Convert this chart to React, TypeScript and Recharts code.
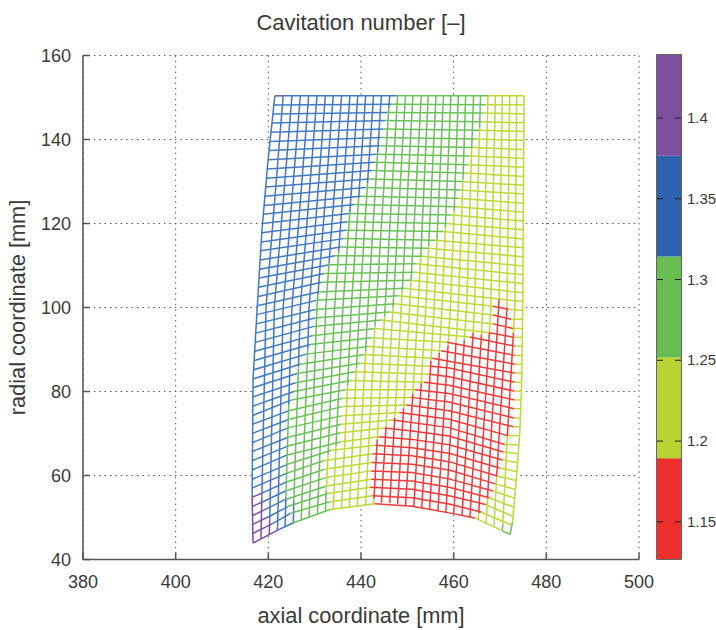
import React from "react";
import {
  ScatterChart,
  Scatter,
  XAxis,
  YAxis,
  CartesianGrid,
  BarChart,
  Bar,
  ReferenceArea,
} from "recharts";

const FONT = "'Liberation Sans', Arial, sans-serif";
const TEXT = "#3a3a3a";
const AXIS = "#555555";

const xTicks = [380, 400, 420, 440, 460, 480, 500];
const yTicks = [40, 60, 80, 100, 120, 140, 160];
const barTicks = [1.15, 1.2, 1.25, 1.3, 1.35, 1.4];

// colour bar bands, bottom to top
const bandColors = ["#ee2f2e", "#b9d432", "#68bd52", "#2f62ae", "#7b4f9d"];
const bandTops = [1.1894, 1.2518, 1.3142, 1.3766, 1.439];
const barMin = 1.127;

// outer edge of the mesh, the grid does not show through it
const meshOutline = [
  421.4, 150.4, 475.2, 150.4, 474.9, 100, 474.7, 83, 474.3, 70.6, 473.6, 60.4, 473, 52.5, 472.2, 46,
  464.6, 49.7, 458.6, 51.1, 451.2, 52.7, 445, 53.5, 439.8, 53, 433.3, 51.8, 427.3, 49.4, 422, 47,
  416.7, 43.9, 416.5, 55.4, 416.7, 83, 417.6, 100, 418.6, 118, 419.9, 134.6, 421.4, 150.4,
];

// mesh lines as flat x,y lists, radial stations first, then axial stations
const purpleLines = [
  [421.4, 150.4, 423.2, 150.4],
  [416.5, 54.8, 418.6, 55.8],
  [416.5, 52.6, 418.7, 53.7],
  [416.5, 50.4, 419.5, 52],
  [416.5, 48.3, 420.3, 50.3],
  [416.5, 46.1, 421, 48.6],
  [416.7, 43.9, 422, 47],
  [416.5, 55.4, 416.7, 43.9],
  [418.6, 55, 418.4, 44.9],
  [420.3, 49.5, 420.2, 45.9],
  [422, 47.8, 421.9, 46.9],
];

const blueLines = [
  [423.2, 150.4, 447.8, 150.4],
  [421.2, 148.2, 446.6, 148.4],
  [421, 146.1, 445.7, 146.4],
  [420.8, 143.9, 445.3, 144.5],
  [420.6, 141.7, 444.8, 142.5],
  [420.4, 139.5, 444.4, 140.5],
  [420.2, 137.4, 444, 138.5],
  [420, 135.2, 443.5, 136.5],
  [419.8, 133, 443, 134.6],
  [419.6, 130.8, 442.4, 132.6],
  [419.4, 128.7, 441.7, 130.6],
  [419.2, 126.5, 441, 128.6],
  [419.1, 124.3, 439.8, 126.5],
  [418.9, 122.2, 438.6, 124.5],
  [418.7, 120, 437.5, 122.4],
  [418.6, 117.8, 437.1, 120.4],
  [418.5, 115.6, 436.7, 118.4],
  [418.3, 113.5, 436.2, 116.4],
  [418.2, 111.3, 435.6, 114.4],
  [418.1, 109.1, 434.4, 112.3],
  [418, 107, 433.2, 110.2],
  [417.9, 104.8, 432.1, 108.1],
  [417.8, 102.6, 431.5, 106],
  [417.6, 100.4, 430.8, 103.7],
  [417.5, 98.3, 430.4, 101.7],
  [417.4, 96.1, 430.2, 99.5],
  [417.3, 93.9, 430, 97.5],
  [417.2, 91.7, 429.8, 95.5],
  [417.1, 89.6, 429.5, 93.3],
  [417, 87.4, 429, 91.2],
  [416.9, 85.2, 428.2, 88.9],
  [416.7, 83, 426.8, 86.5],
  [416.7, 80.9, 426.2, 84.3],
  [416.6, 78.7, 425.9, 82.1],
  [416.6, 76.5, 425.5, 80],
  [416.6, 74.3, 425, 78],
  [416.6, 72.2, 424.6, 75.5],
  [416.5, 70, 424.5, 73.4],
  [416.5, 67.8, 424.4, 71.4],
  [416.5, 65.7, 424.3, 69.1],
  [416.5, 63.5, 424.2, 67],
  [416.5, 61.3, 424.1, 64.9],
  [416.5, 59.1, 424, 62.6],
  [416.5, 57, 423.9, 60.5],
  [418.6, 55.8, 423.8, 58.4],
  [418.7, 53.7, 423.7, 56.3],
  [419.5, 52, 423.7, 54.3],
  [420.3, 50.3, 424.2, 52.6],
  [421, 48.6, 424.8, 51],
  [422, 47, 425.3, 48.7],
  [421.4, 150.4, 419.9, 134.6, 418.6, 118, 417.6, 100, 416.7, 83, 416.5, 55.4],
  [423.2, 150.4, 419.5, 100, 418.6, 55],
  [425.1, 150.4, 421.3, 100, 420.3, 49.5],
  [426.9, 150.4, 423.2, 100, 422, 47.8],
  [428.7, 150.4, 425.1, 100, 424.4, 77],
  [423.8, 55, 423.6, 47.7],
  [430.5, 150.4, 426.9, 100, 426.5, 85.8],
  [425.5, 54, 425.4, 48.5],
  [432.3, 150.4, 428.8, 100, 428.5, 90],
  [434, 150.4, 430.7, 103],
  [435.8, 150.4, 433.1, 110.5],
  [437.6, 150.4, 435.2, 113.5],
  [439.3, 150.4, 437.6, 122.7],
  [441, 150.4, 439.5, 126],
  [442.7, 150.4, 441.4, 129.5],
  [444.4, 150.4, 443.6, 137],
  [446.2, 150.4, 446, 147.5],
];

const greenLines = [
  [447.8, 150.4, 467.4, 150.4],
  [446.6, 148.4, 466.8, 148.3],
  [445.7, 146.4, 466.4, 146.3],
  [445.3, 144.5, 466, 144.2],
  [444.8, 142.5, 465.5, 142.2],
  [444.4, 140.5, 464.8, 140.1],
  [444, 138.5, 464.1, 138.1],
  [443.5, 136.5, 463.4, 136.05],
  [443, 134.6, 462.9, 134],
  [442.4, 132.6, 462.4, 132],
  [441.7, 130.6, 461.9, 130],
  [441, 128.6, 461.5, 128],
  [439.8, 126.5, 461, 126],
  [438.6, 124.5, 460.5, 124],
  [437.5, 122.4, 459.6, 122],
  [437.1, 120.4, 458.6, 120],
  [436.7, 118.4, 457.8, 118.1],
  [436.2, 116.4, 456.1, 116],
  [435.6, 114.4, 454.5, 114.1],
  [434.4, 112.3, 453.1, 112.2],
  [433.2, 110.2, 452, 110.4],
  [432.1, 108.1, 451.4, 108.4],
  [431.5, 106, 450.8, 106.5],
  [430.8, 103.7, 449.4, 104.6],
  [430.4, 101.7, 448.1, 102.8],
  [430.2, 99.5, 447.3, 100.9],
  [430, 97.5, 446.1, 98.9],
  [429.8, 95.5, 444.4, 97],
  [429.5, 93.3, 443, 95],
  [429, 91.2, 442.3, 92.8],
  [428.2, 88.9, 441.5, 90.7],
  [426.8, 86.5, 440.7, 88.8],
  [426.2, 84.3, 439.8, 86.7],
  [425.9, 82.1, 438.7, 84.7],
  [425.5, 80, 437.7, 82.6],
  [425, 78, 436.7, 80.4],
  [424.6, 75.5, 436.05, 78.4],
  [424.5, 73.4, 436, 76.4],
  [424.4, 71.4, 435.8, 74.2],
  [424.3, 69.1, 435.7, 72.2],
  [424.2, 67, 435.6, 70.2],
  [424.1, 64.9, 435.5, 68],
  [424, 62.6, 433.6, 66],
  [423.9, 60.5, 431.9, 63.5],
  [423.8, 58.4, 432.1, 61.5],
  [423.7, 56.3, 432.4, 59.5],
  [423.7, 54.3, 432.6, 57.5],
  [424.2, 52.6, 432.8, 55.7],
  [424.8, 51, 433.1, 53.7],
  [425.3, 48.7, 433.3, 51.9],
  [470.5, 46.8, 472.2, 46],
  [424.4, 77, 423.8, 55],
  [426.5, 85.8, 425.5, 54],
  [428.5, 90, 427.1, 49.3],
  [430.7, 103, 430.5, 100, 428.8, 50],
  [433.1, 110.5, 432.4, 100, 430.6, 50.7],
  [435.2, 113.5, 434.3, 100, 432.9, 65],
  [432.5, 56.5, 432.3, 51.4],
  [437.6, 122.7, 436.1, 100, 434.6, 67],
  [439.5, 126, 437.9, 100, 437.1, 81.3],
  [441.4, 129.5, 439.7, 100, 439, 85.5],
  [443.6, 137, 441.5, 100, 441, 89.5],
  [446, 147.5, 443.3, 100, 443, 95.5],
  [447.9, 150.4, 445.2, 100, 445.1, 97.8],
  [449.6, 150.4, 446.9, 100],
  [451.2, 150.4, 448.9, 104],
  [453, 150.4, 450.8, 106.5],
  [454.5, 150.4, 452.9, 112],
  [456.2, 150.4, 454.6, 114.5],
  [457.8, 150.4, 456.4, 116],
  [459.4, 150.4, 458.2, 119],
  [461, 150.4, 460.1, 122.8],
  [462.6, 150.4, 462, 130.4],
  [464.3, 150.4, 463.9, 138],
  [465.8, 150.4, 465.6, 142.7],
  [470.6, 48.5, 470.5, 46.8],
  [472.7, 49, 472.2, 46],
];

const yellowLines = [
  [467.4, 150.4, 475.2, 150.4],
  [466.8, 148.3, 475.2, 148.3],
  [466.4, 146.3, 475.2, 146.1],
  [466, 144.2, 475.2, 144],
  [465.5, 142.2, 475.2, 141.9],
  [464.8, 140.1, 475.1, 139.8],
  [464.1, 138.1, 475.1, 137.6],
  [463.4, 136.05, 475.1, 135.5],
  [462.9, 134, 475.1, 133.4],
  [462.4, 132, 475.1, 131.2],
  [461.9, 130, 475.1, 129.1],
  [461.5, 128, 475.1, 127],
  [461, 126, 475, 124.8],
  [460.5, 124, 475, 122.7],
  [459.6, 122, 475, 120.6],
  [458.6, 120, 475, 118.5],
  [457.8, 118.1, 475, 116.3],
  [456.1, 116, 475, 114.2],
  [454.5, 114.1, 474.9, 112.1],
  [453.1, 112.2, 474.9, 109.9],
  [452, 110.4, 474.9, 107.8],
  [451.4, 108.4, 474.9, 105.7],
  [450.8, 106.5, 474.9, 103.5],
  [449.4, 104.6, 474.9, 101.4],
  [448.1, 102.8, 468.5, 100.3],
  [447.3, 100.9, 468.5, 98.2],
  [446.1, 98.9, 468.5, 96.1],
  [444.4, 97, 467.7, 94],
  [443, 95, 463.5, 93],
  [442.3, 92.8, 458.6, 91.7],
  [441.5, 90.7, 457.3, 89.7],
  [440.7, 88.8, 455.4, 87.9],
  [439.8, 86.7, 455.1, 86],
  [438.7, 84.7, 455, 84.1],
  [437.7, 82.6, 453.6, 82.2],
  [436.7, 80.4, 451.7, 80.4],
  [436.05, 78.4, 450.8, 78.6],
  [436, 76.4, 449.9, 76.8],
  [435.8, 74.2, 448.3, 75],
  [435.7, 72.2, 446.9, 73.2],
  [435.6, 70.2, 445.1, 71.3],
  [435.5, 68, 443.8, 69.2],
  [433.6, 66, 443.1, 67.2],
  [431.9, 63.5, 442.5, 65.2],
  [432.1, 61.5, 442.3, 63.1],
  [432.4, 59.5, 442.2, 61.1],
  [432.6, 57.5, 442.2, 59.1],
  [432.8, 55.7, 442, 57.2],
  [433.1, 53.7, 442.5, 55.2],
  [433.3, 51.9, 443, 53.3],
  [471.8, 99.6, 474.9, 99.3],
  [472.4, 97.2, 474.8, 97.2],
  [472.8, 95, 474.8, 95],
  [473, 92.9, 474.8, 92.9],
  [473.2, 90.8, 474.8, 90.8],
  [473.2, 88.6, 474.8, 88.6],
  [473.2, 86.5, 474.7, 86.5],
  [473.2, 84.4, 474.7, 84.4],
  [473.2, 82.2, 474.7, 82.2],
  [473.1, 80.1, 474.7, 80.1],
  [473.1, 78, 474.6, 78],
  [473.1, 75.9, 474.6, 75.9],
  [473, 73.7, 474.5, 73.7],
  [472.9, 71.6, 474.4, 71.6],
  [471.7, 69.5, 474.3, 69.5],
  [471, 67.4, 474.1, 67.3],
  [470.7, 65.6, 474, 65.2],
  [470.5, 63.7, 473.8, 63.1],
  [469.9, 61.8, 473.6, 60.9],
  [469.4, 59.9, 473.5, 58.8],
  [469, 58, 473.3, 56.7],
  [468.5, 56.3, 473.2, 54.6],
  [467.7, 54.7, 473, 52.4],
  [466.9, 53.1, 472.7, 50.3],
  [465.9, 51.3, 472.5, 48.2],
  [464.6, 49.9, 470.5, 46.8],
  [432.9, 65, 432.5, 56.5],
  [434.6, 67, 434, 51.9],
  [437.1, 81.3, 435.8, 52.3],
  [439, 85.5, 437.5, 52.6],
  [441, 89.5, 439.2, 52.9],
  [443, 95.5, 441, 53.1],
  [445.1, 97.8, 443.5, 68.5],
  [442.8, 54.5, 442.7, 53.3],
  [446.9, 100, 445.4, 71.5],
  [448.9, 104, 448.7, 100, 447.3, 73.8],
  [450.8, 106.5, 450.5, 100, 449.2, 76],
  [452.9, 112, 452.3, 100, 451.2, 79.5],
  [454.6, 114.5, 454, 100, 453, 82],
  [456.4, 116, 455.8, 100, 455.1, 87.3],
  [458.2, 119, 457.5, 100, 456.9, 89.2],
  [460.1, 122.8, 459.3, 100, 458.8, 91],
  [462, 130.4, 461, 100, 460.5, 91.5],
  [463.9, 138, 462.8, 100, 462.3, 92.2],
  [465.6, 142.7, 464.5, 100, 464.2, 94],
  [467.4, 150.4, 466.3, 100, 466, 93.5],
  [469, 150.4, 468, 100, 467.7, 94],
  [465.4, 51, 465.3, 49.4],
  [470.5, 150.4, 469.8, 102],
  [467.3, 54.5, 467, 48.6],
  [472.1, 150.4, 471.5, 100],
  [469.3, 60, 468.7, 47.8],
  [473.6, 150.4, 473.2, 100, 472.9, 94],
  [471.6, 69.5, 470.6, 48.5],
  [475.2, 150.4, 474.9, 100, 474.7, 83, 474.3, 70.6, 473.6, 60.4, 473, 52.5, 472.7, 49],
];

const redLines = [
  [468.5, 100.3, 471.8, 99.6],
  [468.5, 98.2, 472.4, 97.2],
  [468.5, 96.1, 472.8, 95],
  [467.7, 94, 473, 92.9],
  [463.5, 93, 473.2, 90.8],
  [458.6, 91.7, 473.2, 88.6],
  [457.3, 89.7, 473.2, 86.5],
  [455.4, 87.9, 473.2, 84.4],
  [455.1, 86, 459, 85.6, 473.2, 82.2],
  [455, 84.1, 459, 83.5, 473.1, 80.1],
  [453.6, 82.2, 459, 81.5, 473.1, 78],
  [451.7, 80.4, 459, 79.5, 473.1, 75.9],
  [450.8, 78.6, 459, 77.5, 473, 73.7],
  [449.9, 76.8, 459, 75.4, 472.9, 71.6],
  [448.3, 75, 459, 73.4, 471.7, 69.5],
  [446.9, 73.2, 459, 71.4, 471, 67.4],
  [445.1, 71.3, 451, 70.6, 459, 69.4, 470.7, 65.6],
  [443.8, 69.2, 451, 68.6, 459, 67.3, 470.5, 63.7],
  [443.1, 67.2, 451, 66.6, 459, 65.3, 469.9, 61.8],
  [442.5, 65.2, 451, 64.7, 459, 63.3, 469.4, 59.9],
  [442.3, 63.1, 451, 62.7, 459, 61.3, 469, 58],
  [442.2, 61.1, 451, 60.7, 459, 59.2, 468.5, 56.3],
  [442.2, 59.1, 451, 58.7, 459, 57.2, 467.7, 54.7],
  [442, 57.2, 451, 56.7, 459, 55.2, 466.9, 53.1],
  [442.5, 55.2, 451, 54.7, 459, 53.2, 465.9, 51.3],
  [443, 53.3, 451, 52.7, 459, 51.1, 464.6, 49.9],
  [443.5, 68.5, 442.8, 54.5],
  [445.4, 71.5, 444.4, 53.5],
  [447.3, 73.8, 446.2, 53.4],
  [449.2, 76, 447.9, 53.2],
  [451.2, 79.5, 449.6, 52.9],
  [453, 82, 451.4, 52.7],
  [455.1, 87.3, 453.1, 52.3],
  [456.9, 89.2, 454.8, 51.9],
  [458.8, 91, 456.6, 51.5],
  [460.5, 91.5, 458.3, 51.2],
  [462.3, 92.2, 460, 50.8],
  [464.2, 94, 461.8, 50.4],
  [466, 93.5, 463.5, 50],
  [467.7, 94, 465.4, 51],
  [469.8, 102, 469.7, 100, 467.3, 54.5],
  [471.5, 100, 469.3, 60],
  [472.9, 94, 471.6, 69.5],
];

const meshGroups = [
  { color: "#7b4f9d", lines: purpleLines },
  { color: "#4279c2", lines: blueLines },
  { color: "#6cc05a", lines: greenLines },
  { color: "#bfd83a", lines: yellowLines },
  { color: "#f03a3a", lines: redLines },
];

const toPoints = (flat: number[]) => {
  const pts: { x: number; y: number }[] = [];
  for (let i = 0; i < flat.length; i += 2) pts.push({ x: flat[i], y: flat[i + 1] });
  return pts;
};

const barRow: Record<string, number | string> = { name: "bar" };
bandTops.forEach((top, i) => {
  barRow["b" + i] = i === 0 ? top : top - bandTops[i - 1];
});

const NoDot = () => <g />;

const BarTick = ({ x, y, payload }: any) => (
  <g>
    <line x1={x - 24} x2={x - 18} y1={y} y2={y} stroke="#222" />
    <line x1={x - 6} x2={x} y1={y} y2={y} stroke="#222" />
    <text x={x + 6} y={y + 5} fontSize={15} fontFamily={FONT} fill={TEXT}>
      {payload.value}
    </text>
  </g>
);

export default function App() {
  const tickStyle = { fontSize: 18, fontFamily: FONT, fill: TEXT };
  const labelStyle = { fontSize: 21.8, fontFamily: FONT, fill: TEXT };
  return (
    <div style={{ position: "absolute", left: 0, top: 0, width: 716, height: 630, background: "#fff" }}>
      <div
        style={{
          position: "absolute",
          left: 83,
          width: 556,
          top: 10,
          textAlign: "center",
          fontSize: 22,
          fontFamily: FONT,
          color: TEXT,
        }}
      >
        Cavitation number [–]
      </div>
      <div style={{ position: "absolute", left: 0, top: 0 }}>
        <ScatterChart
          width={716}
          height={630}
          margin={{ top: 55.5, right: 77, bottom: 69.5, left: 82 }}
        >
          <CartesianGrid stroke={AXIS} strokeDasharray="1.5 3.9" />
          <XAxis
            type="number"
            dataKey="x"
            domain={[380, 500]}
            ticks={xTicks}
            height={1}
            tickSize={-7}
            tickMargin={23}
            tick={tickStyle}
            stroke={AXIS}
            strokeWidth={1.5}
            interval={0}
            label={{ value: "axial coordinate [mm]", position: "bottom", offset: 47, style: labelStyle }}
          />
          <YAxis
            type="number"
            dataKey="y"
            domain={[40, 160]}
            ticks={yTicks}
            width={1}
            tickSize={-7}
            tickMargin={19}
            tick={tickStyle}
            stroke={AXIS}
            strokeWidth={1.5}
            interval={0}
            label={{ value: "radial coordinate [mm]", angle: -90, position: "left", offset: 65, style: { ...labelStyle, textAnchor: "middle" } }}
          />
          <Scatter
            data={toPoints(meshOutline)}
            line={{ stroke: "none", fill: "#fff" }}
            shape={NoDot}
            isAnimationActive={false}
          />
          {meshGroups.flatMap((group) =>
            group.lines.map((line, i) => (
              <Scatter
                key={group.color + i}
                data={toPoints(line)}
                line={{ stroke: group.color, strokeWidth: 1.5 }}
                shape={NoDot}
                isAnimationActive={false}
              />
            ))
          )}
        </ScatterChart>
      </div>
      <div style={{ position: "absolute", left: 0, top: 0 }}>
        <BarChart
          width={716}
          height={630}
          data={[barRow]}
          barCategoryGap={0}
          margin={{ top: 55, right: 34, bottom: 71, left: 657 }}
        >
          <XAxis dataKey="name" hide />
          <YAxis
            orientation="right"
            type="number"
            domain={[barMin, bandTops[4]]}
            allowDataOverflow
            ticks={barTicks}
            width={1}
            axisLine={false}
            tickLine={false}
            tickSize={0}
            tickMargin={0}
            interval={0}
            tick={<BarTick />}
          />
          {bandColors.map((color, i) => (
            <Bar key={color} dataKey={"b" + i} stackId="bar" fill={color} isAnimationActive={false} />
          ))}
          <ReferenceArea y1={barMin} y2={bandTops[4]} fill="none" stroke="#333" strokeWidth={1.5} />
        </BarChart>
      </div>
    </div>
  );
}
